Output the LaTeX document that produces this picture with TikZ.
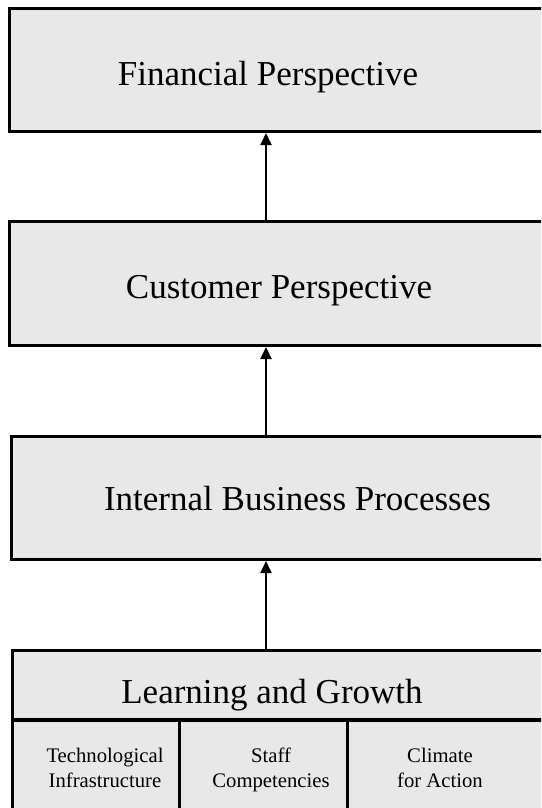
\documentclass[tikz,border=0pt]{standalone}
\usepackage{fontspec}
\setmainfont{Liberation Serif}
\usetikzlibrary{arrows.meta}

\definecolor{boxgray}{RGB}{232,232,232}

\tikzset{
    persp/.style={draw, line width=3pt, fill=boxgray, anchor=north west,
        inner sep=0pt, minimum width=600pt},
    subbox/.style={persp, minimum height=120pt},
    title/.style={anchor=base, inner sep=0pt, font=\fontsize{35}{41}\selectfont},
    subtitle/.style={anchor=base, inner sep=0pt, align=center,
        font=\fontsize{20.7}{25}\selectfont},
    uparrow/.style={line width=2pt, -{Triangle[length=12pt,width=11pt]}}
}

\begin{document}
\begin{tikzpicture}[x=1pt, y=-1pt]
    \useasboundingbox (0,0) rectangle (541,808);
    \clip (0,0) rectangle (541,808);

    % the four perspectives
    \node[persp, minimum height=123pt] (fin) at (8,7) {};
    \node[persp, minimum height=124pt] (cus) at (8,220) {};
    \node[persp, minimum height=123pt] (int) at (10,435) {};
    \node[persp, minimum height=69pt] (lg) at (11,649) {};

    % learning and growth is split in three
    \node[subbox, minimum width=166.5pt] (tech) at (11,719) {};
    \node[subbox, minimum width=168.5pt] (staff) at (177.5,719) {};
    \node[subbox] (clim) at (346,719) {};

    % texts
    \node[title] (fint) at (268,85) {Financial Perspective};
    \node[title] (cust) at (279,298) {Customer Perspective};
    \node[title] (intt) at (297.5,510) {Internal Business Processes};
    \node[title] (lgt) at (272,703) {Learning and Growth};
    \node[subtitle] (techt) at (105,787) {Technological\\Infrastructure};
    \node[subtitle] (stafft) at (271,787) {Staff\\Competencies};
    \node[subtitle] (climt) at (440,787) {Climate\\for Action};

    % cause and effect
    \coordinate (ax) at (266,0);
    \draw[uparrow] (cus.north -| ax) -- (fin.south -| ax);
    \draw[uparrow] (int.north -| ax) -- (cus.south -| ax);
    \draw[uparrow] (lg.north -| ax) -- (int.south -| ax);
\end{tikzpicture}
\end{document}
